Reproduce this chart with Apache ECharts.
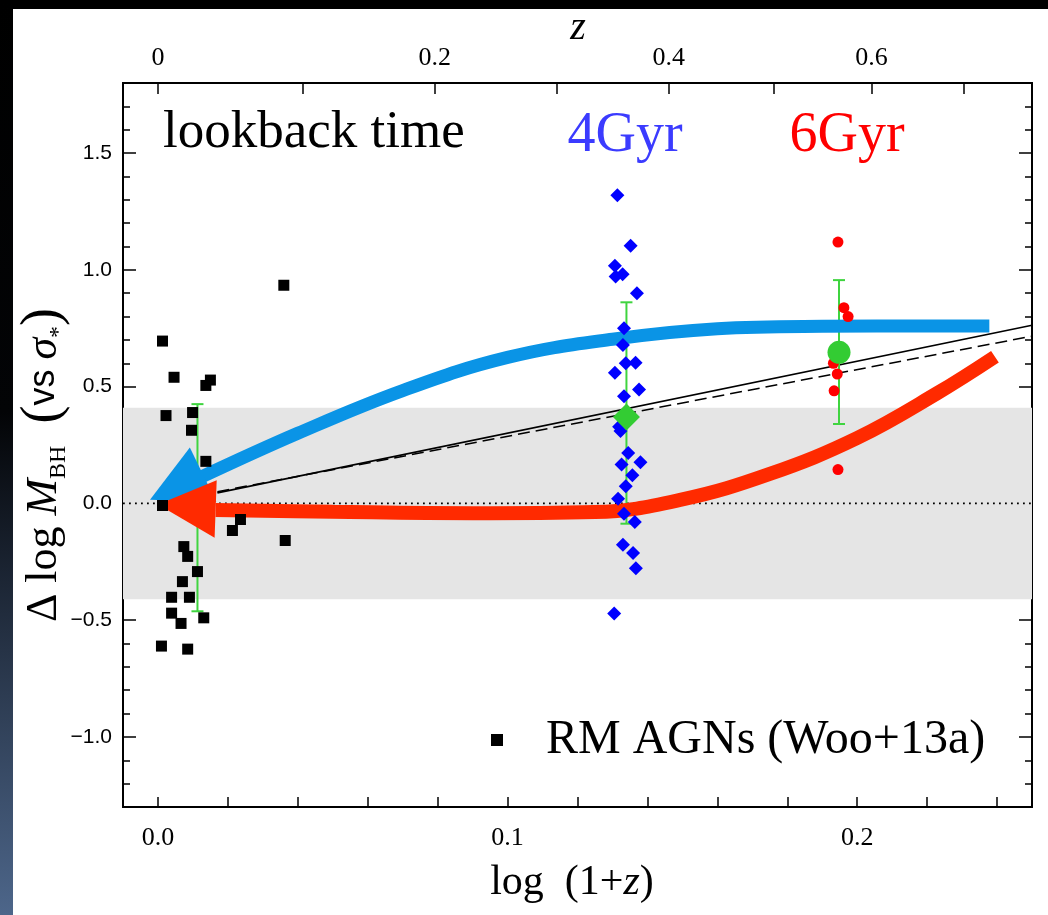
<!DOCTYPE html>
<html><head><meta charset="utf-8">
<script src="https://cdn.jsdelivr.net/npm/echarts@6/dist/echarts.min.js"></script>
<style>html,body{margin:0;padding:0;background:#fff;}#c{width:1048px;height:915px;}</style>
</head><body><div id="c"></div>
<script>
// ---------- data ----------
const rmAgn = [[0.0013,0.695],[0.0046,0.54],[0.015,0.528],[0.0137,0.505],[0.0023,0.376],[0.0099,0.389],[0.0096,0.313],[0.0137,0.18],[0.0013,-0.009],[0.0236,-0.069],[0.0213,-0.116],[0.0364,-0.159],[0.0074,-0.185],[0.0085,-0.227],[0.0113,-0.292],[0.007,-0.335],[0.0039,-0.402],[0.009,-0.402],[0.0039,-0.47],[0.0066,-0.514],[0.0131,-0.49],[0.001,-0.611],[0.0085,-0.624],[0.036,0.934]];
const sample4 = [[0.1314,1.319],[0.1352,1.103],[0.1307,1.017],[0.1309,0.971],[0.1329,0.981],[0.137,0.90],[0.1333,0.75],[0.133,0.678],[0.1338,0.60],[0.1366,0.602],[0.1307,0.559],[0.1376,0.488],[0.1333,0.459],[0.1319,0.328],[0.1323,0.31],[0.1345,0.216],[0.1326,0.166],[0.138,0.176],[0.1357,0.12],[0.1338,0.073],[0.1316,0.02],[0.1333,-0.044],[0.1364,-0.08],[0.133,-0.177],[0.1359,-0.212],[0.1367,-0.278],[0.1305,-0.471]];
const sample6 = [[0.1945,1.119],[0.1962,0.838],[0.1974,0.80],[0.1932,0.60],[0.1943,0.554],[0.1934,0.482],[0.1945,0.145]];
const mean4 = [[0.134,0.37]];
const mean6 = [[0.1948,0.647]];
const errBars = [[0.0113,-0.462,0.425],[0.134,-0.087,0.861],[0.1948,0.34,0.956]];
const fitSolid = [[0.017,0.045],[0.25,0.763]];
const fitDashed = [[0.017,0.05],[0.25,0.716]];
const zeroLine = [[-0.01,0],[0.25,0]];
const scatterBand = [-0.41, 0.41];
const blueArrowPath = [[0.012,0.11],[0.04,0.30],[0.07,0.483],[0.10,0.625],[0.13,0.703],[0.16,0.748],[0.19,0.758],[0.2378,0.76]];
const redArrowPath = [[0.0165,-0.028],[0.05,-0.036],[0.09,-0.042],[0.125,-0.037],[0.15,0.017],[0.175,0.126],[0.2,0.28],[0.2228,0.471],[0.2394,0.628]];
const blueHead = [[-0.00228,0.016,0.00912,0.239,0.0167,0.0056]];
const redHead = [[0.0,-0.0043,0.0168,0.0987,0.0162,-0.147]];
// ticks
const xTicks = [0,0.02,0.04,0.06,0.08,0.1,0.12,0.14,0.16,0.18,0.2,0.22,0.24];
const xLabels = [0,0.1,0.2];
const zTicks = [0,0.1,0.2,0.3,0.4,0.5,0.6,0.7];
const zLabelValues = [0,0.2,0.4,0.6];
const zLabelText = ['0','0.2','0.4','0.6'];
const yMajor = [-1.0,-0.5,0.0,0.5,1.0,1.5];
const yMinor = [-1.2,-1.1,-0.9,-0.8,-0.7,-0.6,-0.4,-0.3,-0.2,-0.1,0.1,0.2,0.3,0.4,0.6,0.7,0.8,0.9,1.1,1.2,1.3,1.4,1.6,1.7];

const SERIF = 'Liberation Serif';
const SANS = 'Liberation Sans';
const lg = z => Math.log10(1 + z);

function yAx(pos, ticks, len, showLabel){
  return {
    type:'value', position:pos, min:-1.3, max:1.8,
    axisLine:{show:true, onZero:false, lineStyle:{color:'#000', width:2}},
    axisTick:{show:true, inside:true, length:len, customValues:ticks, lineStyle:{color:'#000', width:1.5}},
    axisLabel:{show:showLabel, customValues:yMajor, margin:11, color:'#000', fontFamily:SANS, fontSize:21,
      formatter:v => (v < -1e-9 ? '\u2212' : '') + Math.abs(v).toFixed(1)},
    splitLine:{show:false}
  };
}

const chart = echarts.init(document.getElementById('c'), null, {renderer:'canvas'});
chart.setOption({
  animation:false,
  backgroundColor:'#fff',
  grid:{left:123, right:16, top:83, bottom:108},
  legend:{
    data:[{name:'RM AGNs (Woo+13a)', icon:'rect'}],
    left:491, top:716, padding:0, itemWidth:12, itemHeight:12,
    textStyle:{fontFamily:SERIF, fontSize:48, color:'#000', padding:[0,0,0,38]}
  },
  xAxis:[
    {type:'value', position:'bottom', min:-0.01, max:0.25,
     axisLine:{onZero:false, lineStyle:{color:'#000', width:2}},
     axisTick:{inside:true, length:10, customValues:xTicks, lineStyle:{color:'#000', width:1.5}},
     axisLabel:{customValues:xLabels, formatter:v => v.toFixed(1), margin:18, color:'#000', fontFamily:SERIF, fontSize:26},
     splitLine:{show:false}},
    {type:'value', position:'top', min:-0.01, max:0.25,
     axisLine:{onZero:false, lineStyle:{color:'#000', width:2}},
     axisTick:{inside:true, length:11, customValues:zTicks.map(lg), lineStyle:{color:'#000', width:1.5}},
     axisLabel:{customValues:zLabelValues.map(lg), margin:12, color:'#000', fontFamily:SERIF, fontSize:26,
       formatter:v => { const z = Math.pow(10, v) - 1; let best = 0;
         zLabelValues.forEach((zz, i) => { if (Math.abs(zz - z) < Math.abs(zLabelValues[best] - z)) best = i; });
         return zLabelText[best]; }},
     splitLine:{show:false}}
  ],
  yAxis:[ yAx('left', yMajor, 13, true), yAx('left', yMinor, 7, false), yAx('right', yMajor, 13, false), yAx('right', yMinor, 7, false) ],
  series:[
    {type:'line', name:'zero', data:zeroLine, symbol:'none', z:1, silent:true,
     lineStyle:{color:'#000', width:1.8, type:[1.8,4.2]},
     markArea:{silent:true, itemStyle:{color:'#e5e5e5'}, data:[[{yAxis:scatterBand[0]},{yAxis:scatterBand[1]}]]}},
    {type:'line', name:'fitSolid', data:fitSolid, symbol:'none', z:2, lineStyle:{color:'#000', width:1.6}},
    {type:'line', name:'fitDashed', data:fitDashed, symbol:'none', z:2, lineStyle:{color:'#000', width:1.6, type:[12,6]}},
    {type:'custom', name:'err', data:errBars, z:3, encode:{x:0, y:[1,2]},
     renderItem:(params, api) => {
       const x = api.value(0), lo = api.value(1), hi = api.value(2);
       const a = api.coord([x, hi]), b = api.coord([x, lo]);
       const st = {stroke:'#3fd43f', lineWidth:2};
       return {type:'group', children:[
         {type:'line', shape:{x1:a[0], y1:a[1], x2:b[0], y2:b[1]}, style:st},
         {type:'line', shape:{x1:a[0]-6, y1:a[1], x2:a[0]+6, y2:a[1]}, style:st},
         {type:'line', shape:{x1:b[0]-6, y1:b[1], x2:b[0]+6, y2:b[1]}, style:st}
       ]};
     }},
    {type:'line', name:'blueArrow', data:blueArrowPath, smooth:0.4, symbol:'none', z:4, lineStyle:{color:'#0a94e6', width:13, cap:'butt'}},
    {type:'line', name:'redArrow', data:redArrowPath, smooth:0.4, symbol:'none', z:4, lineStyle:{color:'#ff2a00', width:14, cap:'butt'}},
    {type:'custom', name:'blueHead', data:blueHead, z:5, encode:{x:[0,2,4], y:[1,3,5]},
     renderItem:(params, api) => ({type:'polygon', shape:{points:[
       api.coord([api.value(0), api.value(1)]), api.coord([api.value(2), api.value(3)]), api.coord([api.value(4), api.value(5)])]},
       style:{fill:'#0a94e6'}})},
    {type:'custom', name:'redHead', data:redHead, z:5, encode:{x:[0,2,4], y:[1,3,5]},
     renderItem:(params, api) => ({type:'polygon', shape:{points:[
       api.coord([api.value(0), api.value(1)]), api.coord([api.value(2), api.value(3)]), api.coord([api.value(4), api.value(5)])]},
       style:{fill:'#ff2a00'}})},
    {type:'scatter', name:'RM AGNs (Woo+13a)', data:rmAgn, symbol:'rect', symbolSize:11, z:6, itemStyle:{color:'#000', opacity:1}},
    {type:'scatter', name:'4Gyr', data:sample4, symbol:'diamond', symbolSize:14, z:6, itemStyle:{color:'#0000ff', opacity:1}},
    {type:'scatter', name:'6Gyr', data:sample6, symbol:'circle', symbolSize:11, z:6, itemStyle:{color:'#ff0000', opacity:1}},
    {type:'scatter', name:'mean4', data:mean4, symbol:'diamond', symbolSize:27, z:7, itemStyle:{color:'#33cc33', opacity:1}},
    {type:'scatter', name:'mean6', data:mean6, symbol:'circle', symbolSize:23, z:7, itemStyle:{color:'#33cc33', opacity:1}}
  ],
  graphic:[
    {type:'rect', shape:{x:0, y:0, width:1048, height:9}, style:{fill:'#000'}, z:100},
    {type:'rect', shape:{x:0, y:0, width:13, height:915}, z:100,
     style:{fill:new echarts.graphic.LinearGradient(0,0,0,1,[{offset:0,color:'#000'},{offset:0.45,color:'#030406'},{offset:0.62,color:'#1a2331'},{offset:1,color:'#4d668a'}])}},
    {type:'text', left:163, top:107, z:100, style:{text:'lookback time', fontFamily:SERIF, fontSize:53, fill:'#000'}},
    {type:'text', x:625, y:136, z:100, style:{text:'4Gyr', fontFamily:SERIF, fontSize:56, fill:'#3b3bff', align:'center', verticalAlign:'middle'}},
    {type:'text', x:847, y:136, z:100, style:{text:'6Gyr', fontFamily:SERIF, fontSize:56, fill:'#ff0000', align:'center', verticalAlign:'middle'}},
    {type:'text', x:578, y:28, z:100, style:{text:'z', fontFamily:SERIF, fontStyle:'italic', fontSize:40, fill:'#000', align:'center', verticalAlign:'middle'}},
    {type:'text', x:572, y:883, z:100, style:{text:'{n|log  (1+}{i|z}{n|)}', align:'center', verticalAlign:'middle',
      rich:{n:{fontFamily:SERIF, fontSize:42, fill:'#000'}, i:{fontFamily:SERIF, fontStyle:'italic', fontSize:42, fill:'#000'}}}},
    {type:'text', x:44, y:465, rotation:Math.PI/2, z:100, style:{
      text:'{n|\u0394 log }{i|M}{s|BH}{n|  }{p|(}{v|vs }{g|\u03c3}{t|*}{p|)}', align:'center', verticalAlign:'middle',
      rich:{
        n:{fontFamily:SERIF, fontSize:44, fill:'#000', lineHeight:54},
        i:{fontFamily:SERIF, fontStyle:'italic', fontSize:44, fill:'#000', lineHeight:54},
        s:{fontFamily:SERIF, fontSize:24, fill:'#000', lineHeight:54, verticalAlign:'bottom'},
        p:{fontFamily:SERIF, fontSize:54, fill:'#000', lineHeight:54},
        v:{fontFamily:SANS, fontSize:36, fill:'#000', lineHeight:54},
        g:{fontFamily:SERIF, fontStyle:'italic', fontSize:44, fill:'#000', lineHeight:54},
        t:{fontFamily:SERIF, fontSize:24, fill:'#000', lineHeight:54, verticalAlign:'bottom'}
      }}}
  ]
});
</script></body></html>
